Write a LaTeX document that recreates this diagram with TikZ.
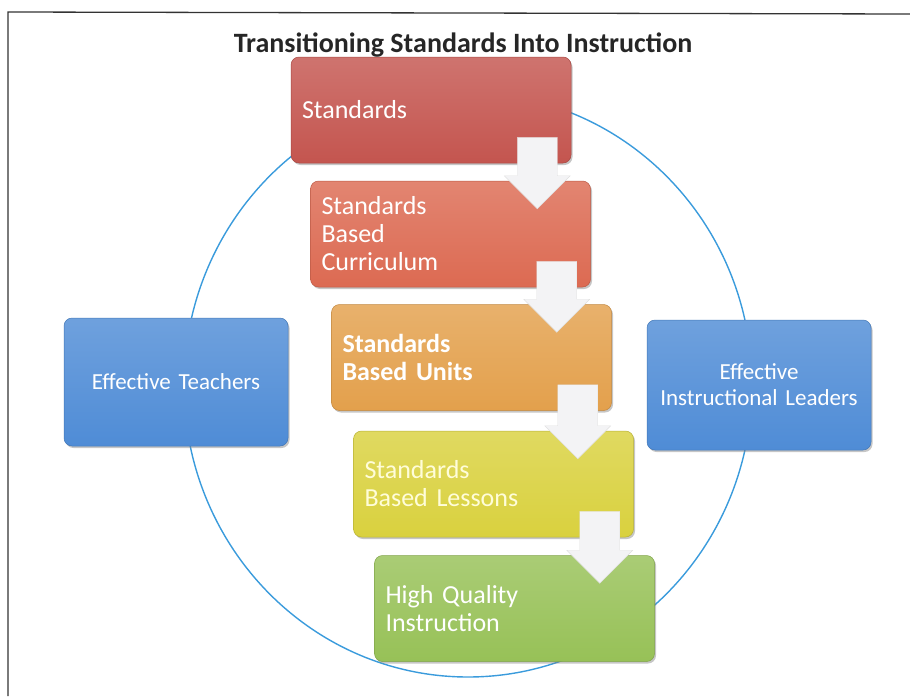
\documentclass[tikz,border=0pt]{standalone}
\usepackage{fontspec}
\setmainfont{Carlito}
\usetikzlibrary{calc,shadows}

\definecolor{ringblue}{HTML}{3A9BDC}
\definecolor{stdred}{HTML}{C4554F}
\definecolor{curred}{HTML}{DC6A52}
\definecolor{unitorange}{HTML}{E3A04C}
\definecolor{lessyellow}{HTML}{D9D13E}
\definecolor{hqgreen}{HTML}{97C157}
\definecolor{sideblue}{HTML}{4F8CD6}
\definecolor{arrowgray}{HTML}{F3F3F5}

\tikzset{
  box/.style={rounded corners=8pt, draw=#1!85!black, line width=0.5pt,
    top color=#1!82!white, bottom color=#1, text=white,
    minimum height=106pt, text width=258pt, inner xsep=11pt, align=left,
    font=\fontsize{26}{28}\selectfont,
    drop shadow={opacity=0.45, shadow xshift=1.5pt, shadow yshift=-2pt}},
  side/.style={box=sideblue, text width=202pt, minimum height=128pt, align=center,
    font=\fontsize{23}{26}\selectfont},
  arrowfill/.style={fill=arrowgray, draw=black!12, line width=0.4pt},
}

% white step arrow from one box down into the next
\newcommand\stepdown[2]{%
  \filldraw[arrowfill] let \p1=(#1.south east), \p2=(#2.north) in
    (\x1-54pt,\y1+26pt) -- (\x1-14pt,\y1+26pt) -- (\x1-14pt,\y2+5pt)
    -- (\x1-1pt,\y2+5pt) -- (\x1-34pt,\y2-28pt) -- (\x1-67pt,\y2+5pt)
    -- (\x1-54pt,\y2+5pt) -- cycle;
}

\begin{document}
\begin{tikzpicture}[x=1pt,y=-1pt]
  \useasboundingbox (0,0) rectangle (910,696);
  \draw[line width=1.3pt, black!80] (8,696) -- (8,12) -- (910,14);

  \draw[ringblue, line width=1.4pt] (468,385) ellipse [x radius=284, y radius=292];

  \node[side] (teach) at (176,382) {Effective Teachers};
  \node[side, minimum height=130pt] (lead) at (759,385) {Effective\\Instructional Leaders};

  \node[box=stdred] (s1) at (431,110) {Standards};
  \node[box=curred] (s2) at (450.5,234) {Standards\\Based\\Curriculum};
  \node[box=unitorange, font=\fontsize{26}{28}\selectfont\bfseries] (s3) at (471.5,357.5) {Standards\\Based Units};
  \node[box=lessyellow, text=yellow!15] (s4) at (493.5,484) {Standards\\Based Lessons};
  \node[box=hqgreen] (s5) at (514.5,608.5) {High Quality\\Instruction};

  \stepdown{s1}{s2}
  \stepdown{s2}{s3}
  \stepdown{s3}{s4}
  \stepdown{s4}{s5}

  \node[font=\fontsize{28}{32}\selectfont\bfseries, text=black!85, anchor=base] (title) at (463,52) {Transitioning Standards Into Instruction};
\end{tikzpicture}
\end{document}
